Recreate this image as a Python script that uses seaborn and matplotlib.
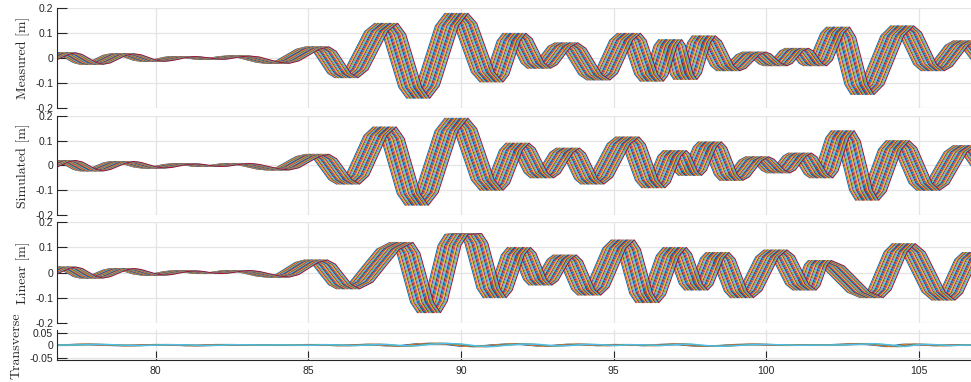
import numpy as np
import pandas as pd
import matplotlib
matplotlib.use("Agg")
import matplotlib.pyplot as plt
import seaborn as sns

sns.set_theme(style="white")
plt.rcParams["font.family"] = ["Liberation Sans", "DejaVu Sans"]
plt.rcParams["axes.unicode_minus"] = False

# ---------------- data (wave elevation) ----------------
meas_t = [76.2, 76.4, 76.6, 76.8, 77.0, 77.225, 77.45, 77.675, 77.9, 78.15, 78.4, 78.65,
          78.9, 79.15, 79.4, 79.65, 79.9, 80.15, 80.4, 80.65, 80.9, 81.125, 81.35, 81.575,
          81.8, 82.025, 82.25, 82.475, 82.7, 83.025, 83.35, 83.675, 84.0, 84.325, 84.65, 84.975,
          85.3, 85.538, 85.775, 86.013, 86.25, 86.575, 86.9, 87.225, 87.55, 87.813, 88.075, 88.338,
          88.6, 88.913, 89.225, 89.538, 89.85, 90.138, 90.425, 90.713, 91.0, 91.188, 91.375, 91.563,
          91.75, 91.95, 92.15, 92.35, 92.55, 92.775, 93.0, 93.225, 93.45, 93.713, 93.975, 94.238,
          94.5, 94.75, 95.0, 95.25, 95.5, 95.688, 95.875, 96.063, 96.25, 96.4, 96.55, 96.7,
          96.85, 96.975, 97.1, 97.225, 97.35, 97.5, 97.65, 97.8, 97.95, 98.15, 98.35, 98.55,
          98.75, 98.963, 99.175, 99.388, 99.6, 99.775, 99.95, 100.125, 100.3, 100.475, 100.65, 100.825,
          101.0, 101.15, 101.3, 101.45, 101.6, 101.788, 101.975, 102.163, 102.35, 102.55, 102.75, 102.95,
          103.15, 103.475, 103.8, 104.125, 104.45, 104.7, 104.95, 105.2, 105.45, 105.713, 105.975, 106.238,
          106.5, 106.7, 106.9, 107.1, 107.3]
meas_v = [-0.010, -0.005, 0.006, 0.017, 0.022, 0.015, -0.001, -0.017, -0.024, -0.018, -0.003, 0.012,
          0.018, 0.014, 0.003, -0.008, -0.012, -0.009, -0.003, 0.004, 0.007, 0.005, 0.002, -0.002,
          -0.004, -0.002, 0.003, 0.007, 0.009, 0.005, -0.006, -0.016, -0.020, -0.010, 0.013, 0.036,
          0.046, 0.028, -0.016, -0.060, -0.078, -0.046, 0.031, 0.108, 0.140, 0.096, -0.010, -0.116,
          -0.160, -0.110, 0.010, 0.130, 0.180, 0.140, 0.043, -0.055, -0.095, -0.066, 0.003, 0.071,
          0.100, 0.079, 0.030, -0.019, -0.040, -0.025, 0.011, 0.047, 0.062, 0.040, -0.013, -0.065,
          -0.087, -0.060, 0.007, 0.073, 0.100, 0.072, 0.004, -0.064, -0.092, -0.068, -0.009, 0.051,
          0.075, 0.052, -0.005, -0.062, -0.085, -0.059, 0.003, 0.064, 0.090, 0.069, 0.020, -0.029,
          -0.050, -0.039, -0.013, 0.014, 0.025, 0.017, -0.003, -0.022, -0.030, -0.020, 0.005, 0.030,
          0.040, 0.030, 0.005, -0.020, -0.030, -0.007, 0.048, 0.102, 0.125, 0.085, -0.010, -0.105,
          -0.145, -0.105, -0.008, 0.090, 0.130, 0.104, 0.040, -0.024, -0.050, -0.032, 0.010, 0.052,
          0.070, 0.057, 0.025, -0.007, -0.020]

sim_t = [76.2, 76.4, 76.6, 76.8, 77.0, 77.225, 77.45, 77.675, 77.9, 78.15, 78.4, 78.65,
         78.9, 79.15, 79.4, 79.65, 79.9, 80.15, 80.4, 80.65, 80.9, 81.125, 81.35, 81.575,
         81.8, 82.025, 82.25, 82.475, 82.7, 83.025, 83.35, 83.675, 84.0, 84.325, 84.65, 84.975,
         85.3, 85.55, 85.8, 86.05, 86.3, 86.6, 86.9, 87.2, 87.5, 87.763, 88.025, 88.288,
         88.55, 88.875, 89.2, 89.525, 89.85, 90.138, 90.425, 90.713, 91.0, 91.213, 91.425, 91.638,
         91.85, 92.05, 92.25, 92.45, 92.65, 92.863, 93.075, 93.288, 93.5, 93.7, 93.9, 94.1,
         94.3, 94.588, 94.875, 95.163, 95.45, 95.663, 95.875, 96.088, 96.3, 96.475, 96.65, 96.825,
         97.0, 97.125, 97.25, 97.375, 97.5, 97.663, 97.825, 97.988, 98.15, 98.325, 98.5, 98.675,
         98.85, 99.063, 99.275, 99.488, 99.7, 99.875, 100.05, 100.225, 100.4, 100.575, 100.75, 100.925,
         101.1, 101.275, 101.45, 101.625, 101.8, 101.975, 102.15, 102.325, 102.5, 102.7, 102.9, 103.1,
         103.3, 103.55, 103.8, 104.05, 104.3, 104.55, 104.8, 105.05, 105.3, 105.6, 105.9, 106.2,
         106.5, 106.7, 106.9, 107.1, 107.3]
sim_v = [-0.010, -0.006, 0.005, 0.016, 0.020, 0.014, -0.001, -0.016, -0.022, -0.016, -0.003, 0.010,
         0.016, 0.012, 0.003, -0.006, -0.010, -0.008, -0.002, 0.004, 0.006, 0.005, 0.001, -0.003,
         -0.004, -0.002, 0.002, 0.006, 0.008, 0.004, -0.005, -0.014, -0.018, -0.009, 0.014, 0.036,
         0.045, 0.027, -0.015, -0.057, -0.075, -0.041, 0.040, 0.121, 0.155, 0.109, -0.003, -0.114,
         -0.160, -0.109, 0.015, 0.139, 0.190, 0.148, 0.045, -0.058, -0.100, -0.072, -0.005, 0.062,
         0.090, 0.069, 0.020, -0.029, -0.050, -0.032, 0.010, 0.052, 0.070, 0.049, -0.003, -0.054,
         -0.075, -0.047, 0.020, 0.087, 0.115, 0.085, 0.013, -0.060, -0.090, -0.068, -0.015, 0.038,
         0.060, 0.045, 0.010, -0.025, -0.040, -0.020, 0.028, 0.075, 0.095, 0.072, 0.018, -0.037,
         -0.060, -0.046, -0.013, 0.021, 0.035, 0.025, 0.003, -0.020, -0.030, -0.018, 0.010, 0.038,
         0.050, 0.035, 0.000, -0.035, -0.050, -0.022, 0.045, 0.112, 0.140, 0.099, 0.000, -0.099,
         -0.140, -0.105, -0.020, 0.065, 0.100, 0.071, 0.000, -0.071, -0.100, -0.074, -0.010, 0.054,
         0.080, 0.065, 0.030, -0.005, -0.020]

lin_t = [76.2, 76.4, 76.6, 76.8, 77.0, 77.225, 77.45, 77.675, 77.9, 78.15, 78.4, 78.65,
         78.9, 79.15, 79.4, 79.65, 79.9, 80.15, 80.4, 80.65, 80.9, 81.125, 81.35, 81.575,
         81.8, 82.025, 82.25, 82.475, 82.7, 83.025, 83.35, 83.675, 84.0, 84.313, 84.625, 84.938,
         85.25, 85.513, 85.775, 86.038, 86.3, 86.738, 87.175, 87.613, 88.05, 88.275, 88.5, 88.725,
         88.95, 89.175, 89.4, 89.625, 89.85,
         90.3, 90.5, 90.7, 90.9, 91.1, 91.3, 91.5, 91.7, 91.9, 92.075, 92.25, 92.425,
         92.6, 92.8, 93.0, 93.2, 93.4, 93.6, 93.8, 94.0, 94.2, 94.475, 94.75, 95.025,
         95.3, 95.5, 95.7, 95.9, 96.1, 96.325, 96.55, 96.775, 97.0, 97.175, 97.35, 97.525,
         97.7, 97.875, 98.05, 98.225, 98.4, 98.6, 98.8, 99.0, 99.2, 99.475, 99.75, 100.025,
         100.3, 100.538, 100.775, 101.013, 101.25, 101.375, 101.5, 101.625, 101.75, 102.175, 102.6, 103.025,
         103.45, 103.713, 103.975, 104.238, 104.5, 104.825, 105.15, 105.475, 105.8, 106.05, 106.3, 106.55,
         106.8, 106.95, 107.1, 107.25, 107.4]
lin_v = [-0.010, -0.005, 0.006, 0.017, 0.022, 0.016, 0.000, -0.016, -0.022, -0.016, -0.003, 0.010,
         0.016, 0.012, 0.003, -0.006, -0.010, -0.008, -0.002, 0.004, 0.006, 0.005, 0.001, -0.003,
         -0.004, -0.002, 0.002, 0.006, 0.008, 0.004, -0.005, -0.014, -0.018, -0.008, 0.016, 0.040,
         0.050, 0.033, -0.008, -0.048, -0.065, -0.038, 0.028, 0.093, 0.120, 0.079, -0.020, -0.119,
         -0.160, -0.114, -0.003, 0.109, 0.152,
         0.155, 0.118, 0.028, -0.063, -0.100, -0.071, 0.000, 0.071, 0.100, 0.078, 0.025, -0.028,
         -0.050, -0.032, 0.010, 0.052, 0.070, 0.047, -0.010, -0.067, -0.090, -0.058, 0.020, 0.098,
         0.130, 0.093, 0.005, -0.083, -0.120, -0.088, -0.010, 0.068, 0.100, 0.075, 0.015, -0.045,
         -0.070, -0.048, 0.005, 0.058, 0.080, 0.054, -0.010, -0.074, -0.100, -0.072, -0.005, 0.062,
         0.090, 0.067, 0.010, -0.047, -0.070, -0.053, -0.011, 0.031, 0.048, 0.026, -0.026, -0.078,
         -0.100, -0.068, 0.008, 0.083, 0.115, 0.082, 0.003, -0.077, -0.110, -0.082, -0.015, 0.052,
         0.080, 0.068, 0.040, 0.012, 0.000]

trans_t = np.arange(76.25, 107.3, 0.5)
trans_v = [0.000, 0.000, 0.001, 0.003, 0.002, -0.001, -0.002, 0.000, 0.002, 0.001,
           -0.002, -0.001, 0.002, 0.001, 0.000, 0.001, 0.000, -0.001, 0.002, 0.000,
           -0.002, 0.001, 0.003, -0.002, -0.003, 0.004, 0.007, 0.004, -0.004, -0.006,
           0.000, 0.004, 0.003, -0.003, -0.002, 0.003, 0.002, -0.002, 0.002, 0.001,
           -0.002, 0.002, 0.004, -0.002, -0.005, -0.002, 0.002, 0.003, 0.001, -0.001,
           0.000, 0.000, 0.001, 0.003, 0.006, 0.001, -0.006, 0.003, 0.002, -0.002,
           0.000, 0.001, 0.000]

# time lag of each plotted gauge relative to the middle one [s]
n_gauges = 21
gauge_lag = [(k - 10) * 0.0375 for k in range(n_gauges)]
n_trans = 6
trans_lag = [(k - 2.5) * 0.12 for k in range(n_trans)]

panel_labels = ["Measured [m]", "Simulated [m]", "Linear [m]", "Transverse"]
big_yticks = [-0.2, -0.1, 0, 0.1, 0.2]
big_yticklabels = ["-0.2", "-0.1", "0", "0.1", "0.2"]
small_yticks = [-0.05, 0, 0.05]
small_yticklabels = ["-0.05", "0", "0.05"]
xticks = [80, 85, 90, 95, 100, 105]
xticklabels = ["80", "85", "90", "95", "100", "105"]

matlab_colors = ["#0072BD", "#D95319", "#EDB120", "#7E2F8E", "#77AC30", "#4DBEEE", "#A2142F"]

# ---------------- figure ----------------
fig = plt.figure(figsize=(9.71, 3.82), dpi=100)
left, width = 0.0584, 0.9416
rects = [(left, 0.7165, width, 0.2618),
         (left, 0.4366, width, 0.2605),
         (left, 0.1550, width, 0.2631),
         (left, 0.0568, width, 0.0788)]
series = [(meas_t, meas_v), (sim_t, sim_v), (lin_t, lin_v), (trans_t, trans_v)]
dark = "#262626"

for i, (rect, (t, v), lab) in enumerate(zip(rects, series, panel_labels)):
    ax = fig.add_axes(rect)
    t = np.asarray(t, dtype=float)
    v = np.asarray(v, dtype=float)
    lags = gauge_lag if i < 3 else trans_lag
    palette = [matlab_colors[k % 7] for k in range(len(lags))]
    frames = [pd.DataFrame({"t": t + lag, "v": v, "gauge": k}) for k, lag in enumerate(lags)]
    df = pd.concat(frames, ignore_index=True)
    sns.lineplot(data=df, x="t", y="v", hue="gauge", palette=palette, estimator=None,
                 sort=False, legend=False, lw=0.75 if i < 3 else 1.0, ax=ax)
    ax.set_xlim(76.758, 106.703)
    if i < 3:
        ax.set_ylim(-0.2, 0.2)
        ax.set_yticks(big_yticks)
        ax.set_yticklabels(big_yticklabels)
    else:
        ax.set_ylim(-0.0612, 0.06)
        ax.set_yticks(small_yticks)
        ax.set_yticklabels(small_yticklabels)
    ax.set_xticks(xticks)
    ax.grid(True, color="#e4e4e4", lw=0.9)
    ax.set_axisbelow(True)
    for s in ["top", "right"]:
        ax.spines[s].set_visible(False)
    ax.spines["left"].set_color(dark)
    ax.spines["left"].set_linewidth(0.8)
    ax.tick_params(axis="y", direction="in", length=7, width=0.8, color=dark,
                   labelsize=7.5, labelcolor=dark, pad=2.5, left=True)
    if i < 3:
        ax.spines["bottom"].set_visible(False)
        ax.tick_params(axis="x", length=0, labelbottom=False)
    else:
        ax.spines["bottom"].set_color(dark)
        ax.spines["bottom"].set_linewidth(0.8)
        ax.set_xticklabels(xticklabels)
        ax.tick_params(axis="x", direction="in", length=6.5, width=0.8, color=dark,
                       labelsize=7.5, labelcolor=dark, pad=4, bottom=True)
    ax.set_xlabel("")
    ax.set_ylabel(lab, fontfamily=["cmr10", "DejaVu Serif"], fontsize=10, color=dark)
    ax.yaxis.set_label_coords(-0.029 if i < 3 else -0.037, 0.5)

fig.savefig("out.png", dpi=100)
